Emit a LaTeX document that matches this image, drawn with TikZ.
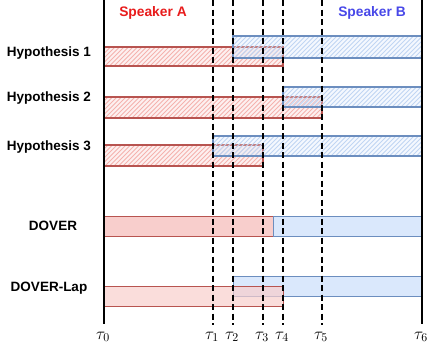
\documentclass[tikz,border=0pt]{standalone}
\usepackage{fix-cm}
\usepackage{fontspec}
\setsansfont{Liberation Sans}

\definecolor{spkAline}{RGB}{184,84,80}
\definecolor{spkAfill}{RGB}{248,206,204}
\definecolor{spkAhatch}{RGB}{244,178,174}
\definecolor{spkBline}{RGB}{108,142,191}
\definecolor{spkBfill}{RGB}{218,232,252}
\definecolor{spkBhatch}{RGB}{192,213,243}
\definecolor{spkAtext}{RGB}{232,28,28}
\definecolor{spkBtext}{RGB}{72,72,232}

% hatched segment: x1, y1, x2, y2, speaker (A or B)
\newcommand{\hatchseg}[5]{%
  \fill[spk#5fill, fill opacity=0.3] (#1,#2) rectangle (#3,#4);
  \begin{scope}
    \clip (#1,#2) rectangle (#3,#4);
    \foreach \k in {0,4.5,...,250}
      \draw[spk#5hatch, line width=1pt] (#1-26+\k,#4) -- ++(26,-26);
  \end{scope}
  \draw[hyp#5] (#1,#2) rectangle (#3,#4);
}

\begin{document}
\begin{tikzpicture}[x=1pt, y=-1pt,
  rowlabel/.style={font=\sffamily\bfseries\fontsize{13.5}{15}\selectfont},
  spklabel/.style={font=\sffamily\bfseries\fontsize{13.8}{15}\selectfont},
  hypA/.style={draw=spkAline, line width=1.3pt},
  hypB/.style={draw=spkBline, line width=1.3pt},
  segA/.style={draw=spkAline, line width=0.8pt, fill=spkAfill},
  segB/.style={draw=spkBline, line width=0.8pt, fill=spkBfill},
  bound/.style={line width=1.6pt},
  cut/.style={line width=1.6pt, dash pattern=on 6pt off 3.5pt}]

\useasboundingbox (0,0) rectangle (427,354);

% Speakers
\node[spklabel, text=spkAtext] (spkA) at (153,13) {Speaker A};
\node[spklabel, text=spkBtext] (spkB) at (372,13) {Speaker B};

% Row labels
\node[rowlabel] (hyp1) at (49,53) {Hypothesis 1};
\node[rowlabel] (hyp2) at (49,98) {Hypothesis 2};
\node[rowlabel] (hyp3) at (49,147) {Hypothesis 3};
\node[rowlabel] (dover) at (53,226) {DOVER};
\node[rowlabel] (doverlap) at (49,288) {DOVER-Lap};

% Hypothesis 1
\hatchseg{104}{47}{283}{66}{A}
\hatchseg{233}{36}{422}{58}{B}

% Hypothesis 2
\hatchseg{104}{97}{322}{118}{A}
\hatchseg{283}{87}{422}{107}{B}

% Hypothesis 3
\hatchseg{104}{145}{263}{166}{A}
\hatchseg{213}{136}{422}{156}{B}

% DOVER
\draw[segA] (104,216) rectangle (273,236);
\draw[segB] (273,216) rectangle (422,236);

% DOVER-Lap
\draw[segB] (233,276) rectangle (422,296);
\draw[segA, fill opacity=0.7] (104,286) rectangle (283,306);

% Time marks
\foreach \i/\xx in {0/104,1/213,2/233,3/263,4/283,5/322,6/422}{
  \coordinate (top\i) at (\xx,0);
  \node[font=\fontsize{17}{20}\selectfont] (tau\i) at (\xx-1,337) {$\tau_\i$};
}
\draw[bound] (top0) -- (top0 |- 0,324);
\draw[bound] (top6) -- (top6 |- 0,324);
\foreach \i in {1,...,5}
  \draw[cut] (top\i) -- (top\i |- 0,325);

\end{tikzpicture}
\end{document}
